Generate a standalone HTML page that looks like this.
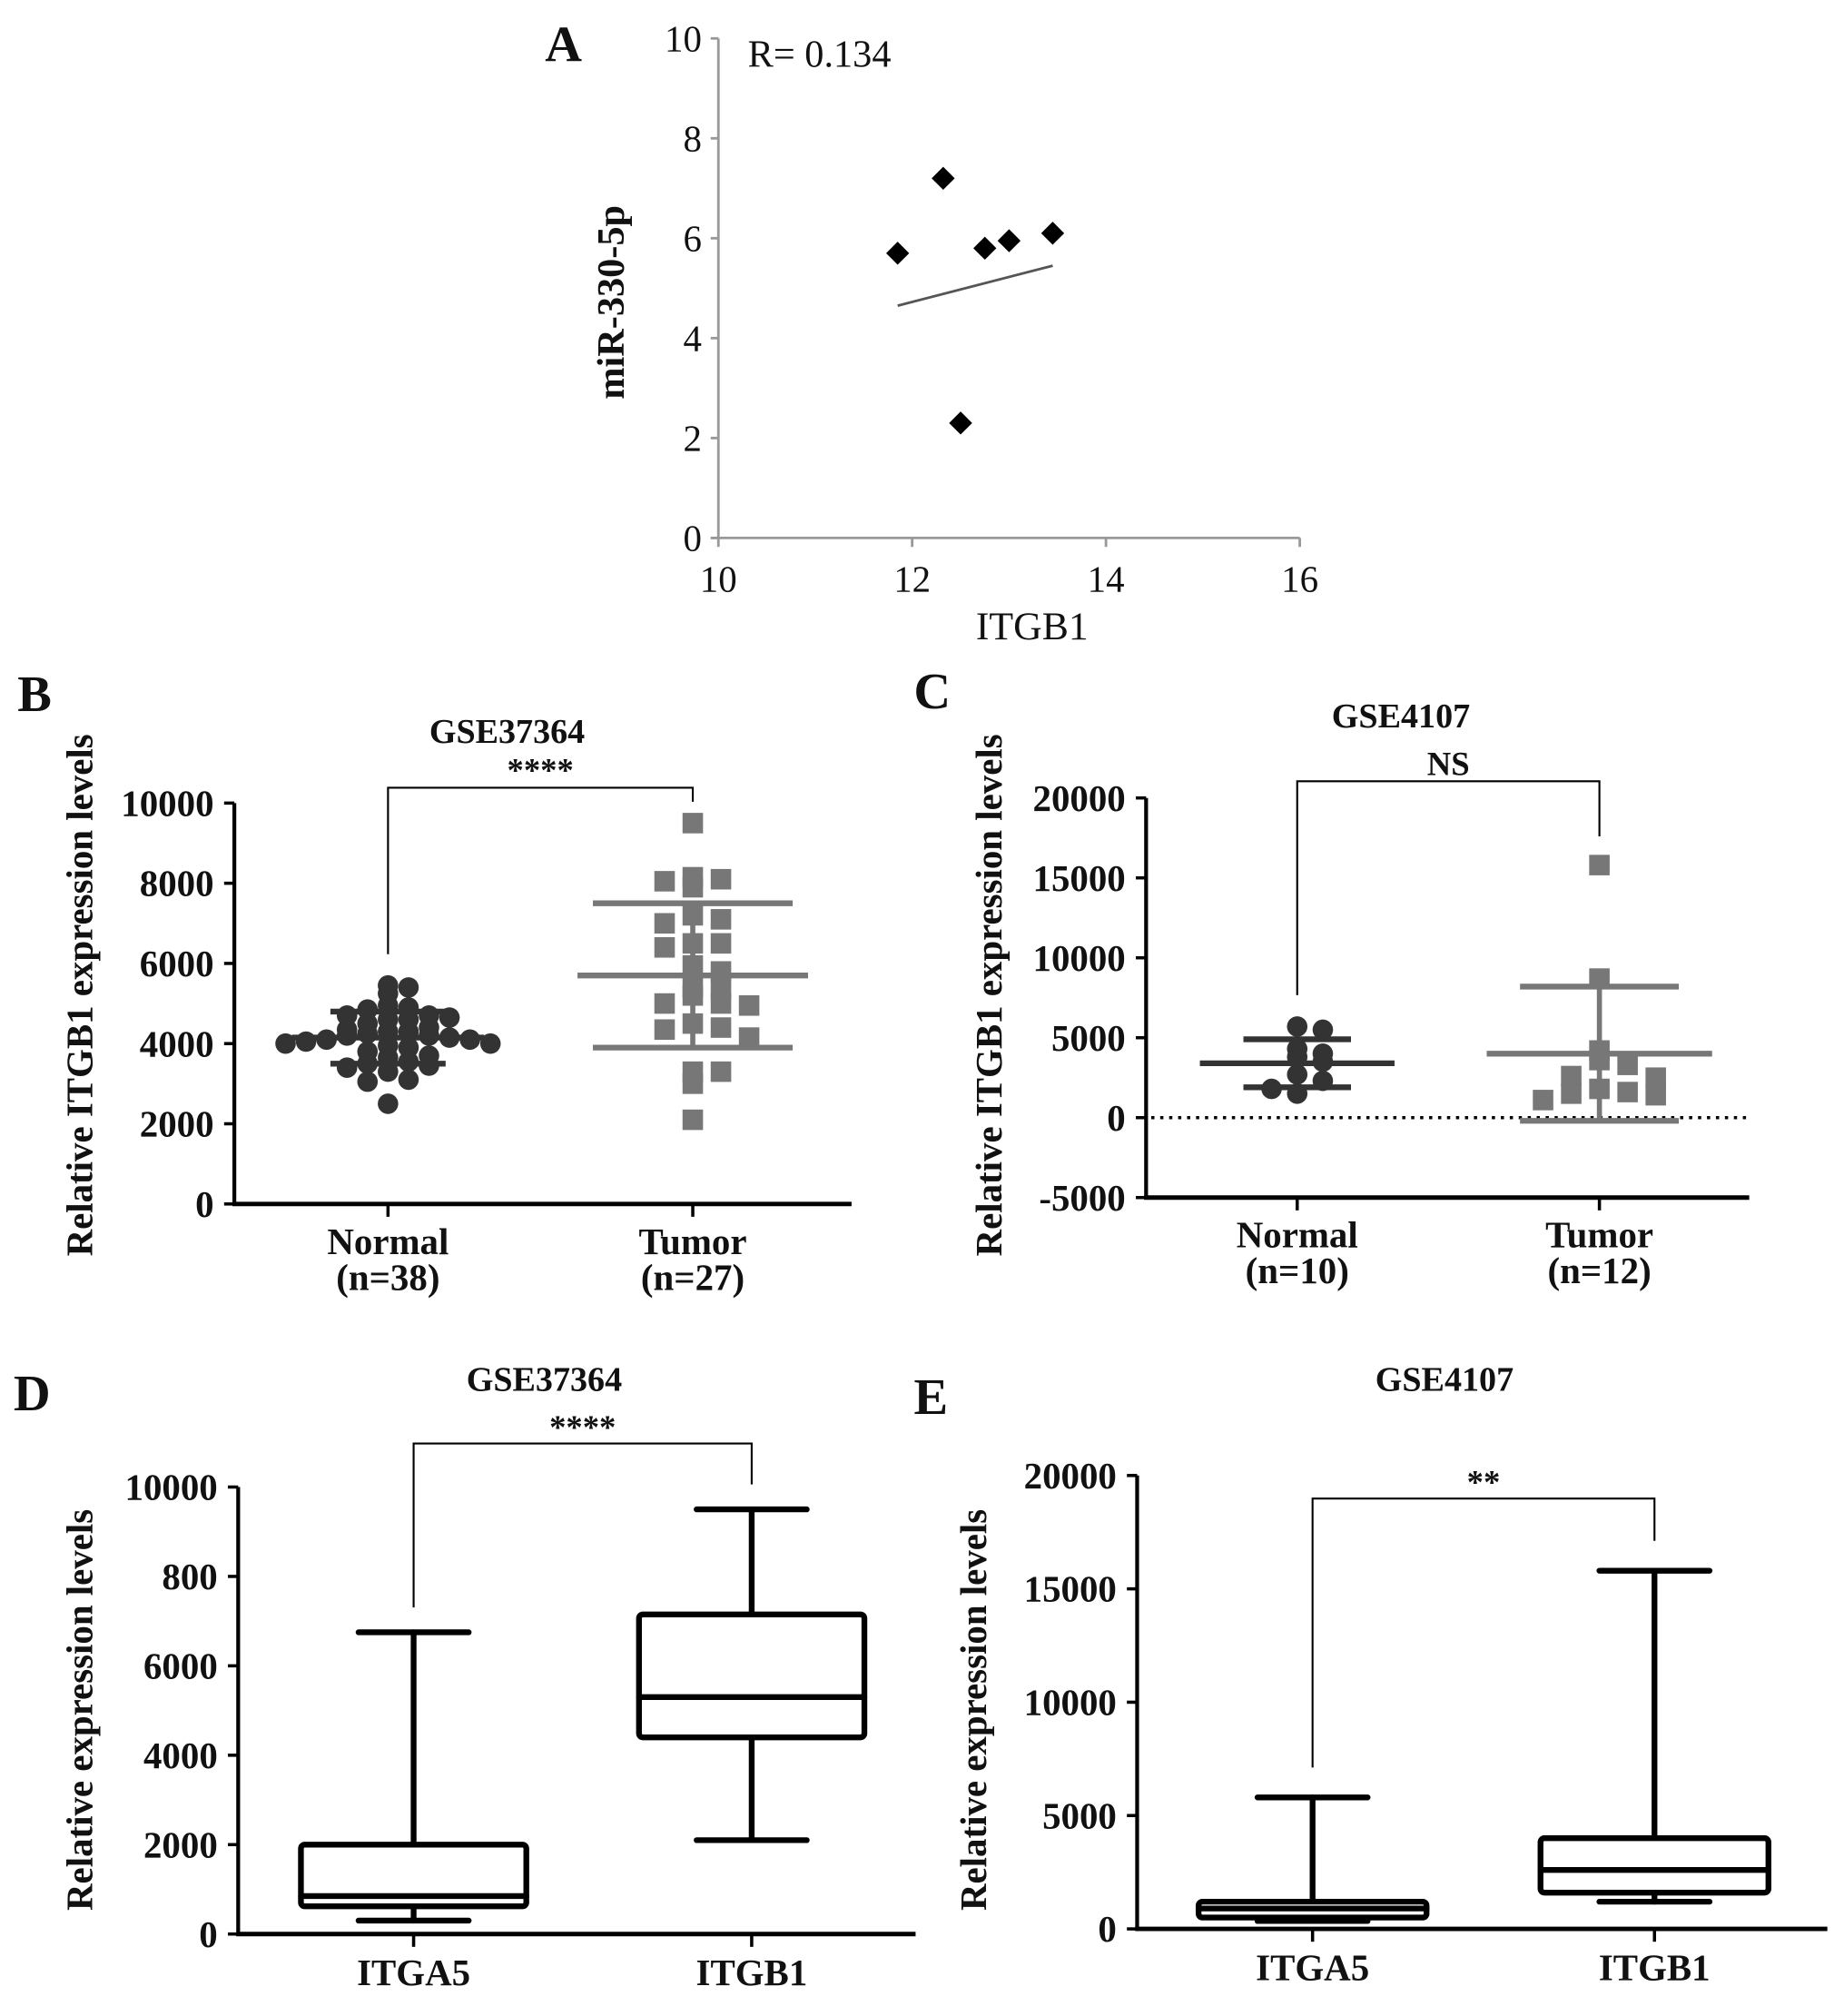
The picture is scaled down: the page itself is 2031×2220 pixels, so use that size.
<!DOCTYPE html>
<html><head><meta charset="utf-8"><style>
html,body{margin:0;padding:0;background:#fff}
svg{display:block}
text{font-family:"Liberation Serif",serif;fill:#111}
</style></head><body>
<svg id="fig" xmlns="http://www.w3.org/2000/svg" width="2031" height="2220" viewBox="0 0 1440 1574" preserveAspectRatio="none">
<rect width="1440" height="1574" fill="#fff"/>
</svg>
<script>
// ---- Panel A data
const aX=[11.85,12.32,12.5,12.75,13.0,13.45];
const aY=[5.7,7.2,2.3,5.8,5.95,6.1];
const aTrendX=[11.85,13.45];
const aTrendY=[4.65,5.45];
const aXTicks=[10,12,14,16];
const aYTicks=[0,2,4,6,8,10];
// ---- Panel B data
const bNormal=[5450,5400,5250,4950,4900,4850,4700,4700,4650,4600,4600,4500,4400,4350,4300,4300,4250,4200,4200,4150,4100,4100,4050,4000,4000,3950,3900,3800,3700,3650,3550,3500,3450,3400,3300,3100,3050,2500];
const bTumor=[9500,8150,8100,8050,7900,7200,7100,7000,6500,6500,6400,5950,5800,5400,5350,5200,5000,5000,4950,4500,4400,4350,4150,3300,3300,3000,2100];
const bMean=[4150,5700];
const bSD=[650,1800];
const bTicks=[0,2000,4000,6000,8000,10000];
// ---- Panel C data
const cNormal=[5700,5500,4300,4000,3800,3500,2700,2300,1800,1500];
const cTumor=[15800,8700,4200,3600,3300,2600,2500,1800,1600,1500,1400,1100];
const cMean=[3400,4000];
const cSD=[1500,4200];
const cTicks=[-5000,0,5000,10000,15000,20000];
// ---- Panel D data (min,q1,median,q3,max)
const dCats=["ITGA5","ITGB1"];
const dBoxes=[[300,620,850,2000,6750],[2100,4400,5300,7150,9500]];
const dTicks=[0,2000,4000,6000,8000,10000];
const dTickLabels=["0","2000","4000","6000","800","10000"];
// ---- Panel E data
const eCats=["ITGA5","ITGB1"];
const eBoxes=[[350,500,900,1200,5800],[1200,1600,2600,4000,15800]];
const eTicks=[0,5000,10000,15000,20000];

const NS="http://www.w3.org/2000/svg";
const svg=document.getElementById('fig');
function el(tag,attrs,parent,txt){const e=document.createElementNS(NS,tag);for(const k in attrs)e.setAttribute(k,attrs[k]);if(txt!==undefined)e.textContent=txt;(parent||svg).appendChild(e);return e;}
function grp(name){const g=el('g',{});


return g;}
function lin(d0,d1,r0,r1){return v=>r0+(v-d0)/(d1-d0)*(r1-r0);}
function label(g,name,x,y,txt,size,extra){const t=el('text',Object.assign({x:x,y:y,'font-size':size,'text-anchor':'middle','font-weight':'bold'},extra||{}),g,txt);


return t;}

// ===== Panel A
(function(){
const g=grp('panel-a');
const X=lin(10,16,561,1015), Y=lin(0,10,420,30);
label(g,'panel-a-letter',440,48,'A',40);
el('line',{x1:561,y1:Y(10),x2:561,y2:420,stroke:'#999','stroke-width':2},g);
el('line',{x1:555,y1:420,x2:1015,y2:420,stroke:'#999','stroke-width':2},g);
aYTicks.forEach(v=>{el('line',{x1:555,y1:Y(v),x2:561,y2:Y(v),stroke:'#999','stroke-width':2},g);
label(g,'y-tick-label',548,Y(v)+10,String(v),29,{'font-weight':'normal','text-anchor':'end'});});
aXTicks.forEach(v=>{el('line',{x1:X(v),y1:420,x2:X(v),y2:427,stroke:'#999','stroke-width':2},g);
label(g,'x-tick-label',X(v),462,String(v),29,{'font-weight':'normal'});});
label(g,'correlation-label',584,52,'R= 0.134',30,{'font-weight':'normal','text-anchor':'start'});
label(g,'x-axis-title',806,499,'ITGB1',31,{'font-weight':'normal'});
label(g,'y-axis-title',487,236,'miR-330-5p',30,{transform:'rotate(-90 487 236)'});
el('line',{x1:X(aTrendX[0]),y1:Y(aTrendY[0]),x2:X(aTrendX[1]),y2:Y(aTrendY[1]),stroke:'#555','stroke-width':2},g);
aX.forEach((x,i)=>{const cx=X(x),cy=Y(aY[i]);const p=el('polygon',{points:`${cx},${cy-9} ${cx+9},${cy} ${cx},${cy+9} ${cx-9},${cy}`,fill:'#000'},g);

});
})();

function swarm(vals,binSize,step){const bins={};return vals.map(v=>{const b=Math.round(v/binSize);bins[b]=(bins[b]||0)+1;const k=bins[b]-1;const off=(k%2?1:-1)*Math.ceil(k/2);return off*step;});}

function dotPlot(cfg){
 const g=grp(cfg.name);
 const Y=lin(cfg.dom[0],cfg.dom[1],cfg.y0,cfg.y1);
 label(g,cfg.name+'-letter',cfg.letterX,cfg.letterY,cfg.letter,40);
 label(g,'chart-title',cfg.titleX,cfg.titleY,cfg.title,27);
 el('line',{x1:cfg.ax,y1:cfg.y1,x2:cfg.ax,y2:cfg.y0+1.5,stroke:'#000','stroke-width':3},g);
 el('line',{x1:cfg.ax-1.5,y1:cfg.y0,x2:cfg.axEnd,y2:cfg.y0,stroke:'#000','stroke-width':3.5},g);
 cfg.ticks.forEach(v=>{el('line',{x1:cfg.ax-8,y1:Y(v),x2:cfg.ax,y2:Y(v),stroke:'#000','stroke-width':2.5},g);
  label(g,'y-tick-label',cfg.ax-16,Y(v)+10,String(v),29,{'text-anchor':'end'});});
 cfg.cx.forEach((x,i)=>{el('line',{x1:x,y1:cfg.y0,x2:x,y2:cfg.y0+10,stroke:'#000','stroke-width':2.5},g);
  label(g,'x-category-label',x,cfg.y0+39,cfg.cats[i],29);
  label(g,'x-category-n',x,cfg.y0+67,cfg.ns[i],29);});
 if(cfg.zeroLine){el('line',{x1:cfg.ax+4,y1:Y(0),x2:cfg.axEnd,y2:Y(0),stroke:'#000','stroke-width':2.5,'stroke-dasharray':'2.5 4.5'},g);}
 label(g,'y-axis-title',cfg.ylx,cfg.yly,cfg.ytitle,29,{transform:`rotate(-90 ${cfg.ylx} ${cfg.yly})`});
 el('polyline',{points:`${cfg.cx[0]},${cfg.brL} ${cfg.cx[0]},${cfg.brY} ${cfg.cx[1]},${cfg.brY} ${cfg.cx[1]},${cfg.brR}`,fill:'none',stroke:'#000','stroke-width':1.5},g);
 label(g,'significance-label',(cfg.cx[0]+cfg.cx[1])/2,cfg.brY-5,cfg.sig,26);
 [cfg.a,cfg.b].forEach((vals,si)=>{
  const offs=swarm(vals,cfg.bin[si],cfg.step[si]);
  const col=si===0?'#333':'#777';
  vals.forEach((v,i)=>{const x=cfg.cx[si]+offs[i],y=Y(v);let m;
   if(si===0)m=el('circle',{cx:x,cy:y,r:8,fill:col},g);
   else m=el('rect',{x:x-8,y:y-8,width:16,height:16,fill:col},g);
   
   });
  const mean=cfg.mean[si],sd=cfg.sd[si],c=cfg.cx[si];
  el('line',{x1:c,y1:Y(mean+sd),x2:c,y2:Y(mean-sd),stroke:col,'stroke-width':4},g);
  el('line',{x1:c-cfg.mw[si],y1:Y(mean),x2:c+cfg.mw[si],y2:Y(mean),stroke:col,'stroke-width':4.5},g);
  [mean+sd,mean-sd].forEach(v=>el('line',{x1:c-cfg.sw[si],y1:Y(v),x2:c+cfg.sw[si],y2:Y(v),stroke:col,'stroke-width':4.5},g));
 });
}
dotPlot({name:'panel-b',letter:'B',letterX:27,letterY:555,title:'GSE37364',titleX:396,titleY:580,dom:[0,10000],y0:940,y1:627,ax:183,axEnd:665,
 ticks:bTicks,cx:[303,541],cats:['Normal','Tumor'],ns:['(n=38)','(n=27)'],ylx:72,yly:777,ytitle:'Relative ITGB1 expression levels',
 brY:615,brL:745,brR:626,sig:'****',a:bNormal,b:bTumor,mean:bMean,sd:bSD,mw:[75,90],sw:[45,78],bin:[320,550],step:[16,22]});
dotPlot({name:'panel-c',letter:'C',letterX:728,letterY:553,title:'GSE4107',titleX:1094,titleY:568,dom:[-5000,20000],y0:935,y1:623,ax:895,axEnd:1366,zeroLine:true,
 ticks:cTicks,cx:[1013,1249],cats:['Normal','Tumor'],ns:['(n=10)','(n=12)'],ylx:782,yly:777,ytitle:'Relative ITGB1 expression levels',
 brY:610,brL:777,brR:653,sig:'NS',a:cNormal,b:cTumor,mean:cMean,sd:cSD,mw:[76,88],sw:[42,62],bin:[1100,1500],step:[20,22]});

function boxPlot(cfg){
 const g=grp(cfg.name);
 const Y=lin(cfg.dom[0],cfg.dom[1],cfg.y0,cfg.y1);
 label(g,cfg.name+'-letter',cfg.letterX,cfg.letterY,cfg.letter,40);
 label(g,'chart-title',cfg.titleX,cfg.titleY,cfg.title,27);
 el('line',{x1:cfg.ax,y1:cfg.y1,x2:cfg.ax,y2:cfg.y0+1.5,stroke:'#000','stroke-width':3},g);
 el('line',{x1:cfg.ax-1.5,y1:cfg.y0,x2:cfg.axEnd,y2:cfg.y0,stroke:'#000','stroke-width':3.5},g);
 cfg.ticks.forEach((v,i)=>{el('line',{x1:cfg.ax-8,y1:Y(v),x2:cfg.ax,y2:Y(v),stroke:'#000','stroke-width':2.5},g);
  label(g,'y-tick-label',cfg.ax-16,Y(v)+10,cfg.tickLabels[i],29,{'text-anchor':'end'});});
 cfg.cx.forEach((x,i)=>{el('line',{x1:x,y1:cfg.y0,x2:x,y2:cfg.y0+10,stroke:'#000','stroke-width':2.5},g);
  label(g,'x-category-label',x,cfg.y0+40,cfg.cats[i],29);});
 label(g,'y-axis-title',cfg.ylx,cfg.yly,'Relative expression levels',29,{transform:`rotate(-90 ${cfg.ylx} ${cfg.yly})`});
 el('polyline',{points:`${cfg.cx[0]},${cfg.brL} ${cfg.cx[0]},${cfg.brY} ${cfg.cx[1]},${cfg.brY} ${cfg.cx[1]},${cfg.brR}`,fill:'none',stroke:'#000','stroke-width':1.5},g);
 label(g,'significance-label',(cfg.cx[0]+cfg.cx[1])/2,cfg.brY-4,cfg.sig,26);
 cfg.boxes.forEach((b,i)=>{const c=cfg.cx[i];const bg=el('g',{},g);
  
  
  const s={stroke:'#000','stroke-width':4.5,'stroke-linecap':'round'};
  el('line',Object.assign({x1:c,y1:Y(b[0]),x2:c,y2:Y(b[1])},s),bg);
  el('line',Object.assign({x1:c,y1:Y(b[3]),x2:c,y2:Y(b[4])},s),bg);
  el('line',Object.assign({x1:c-cfg.cap,y1:Y(b[0]),x2:c+cfg.cap,y2:Y(b[0])},s),bg);
  el('line',Object.assign({x1:c-cfg.cap,y1:Y(b[4]),x2:c+cfg.cap,y2:Y(b[4])},s),bg);
  el('rect',{x:c-cfg.bw,y:Y(b[3]),width:cfg.bw*2,height:Y(b[1])-Y(b[3]),fill:'#fff',stroke:'#000','stroke-width':4.5,rx:3},bg);
  el('line',Object.assign({x1:c-cfg.bw,y1:Y(b[2]),x2:c+cfg.bw,y2:Y(b[2])},s),bg);
 });
}
boxPlot({name:'panel-d',letter:'D',letterX:25,letterY:1101,title:'GSE37364',titleX:425,titleY:1086,dom:[0,10000],y0:1510,y1:1161,ax:186,axEnd:715,
 ticks:dTicks,tickLabels:dTickLabels,cx:[323,587],cats:dCats,ylx:72,yly:1335,brY:1127,brL:1255,brR:1159,sig:'****',boxes:dBoxes,cap:43,bw:88});
boxPlot({name:'panel-e',letter:'E',letterX:727,letterY:1104,title:'GSE4107',titleX:1128,titleY:1086,dom:[0,20000],y0:1506,y1:1152,ax:888,axEnd:1427,
 ticks:eTicks,tickLabels:eTicks.map(String),cx:[1025,1292],cats:eCats,ylx:770,yly:1335,brY:1170,brL:1380,brR:1203,sig:'**',boxes:eBoxes,cap:43,bw:89});
</script>
</body></html>
